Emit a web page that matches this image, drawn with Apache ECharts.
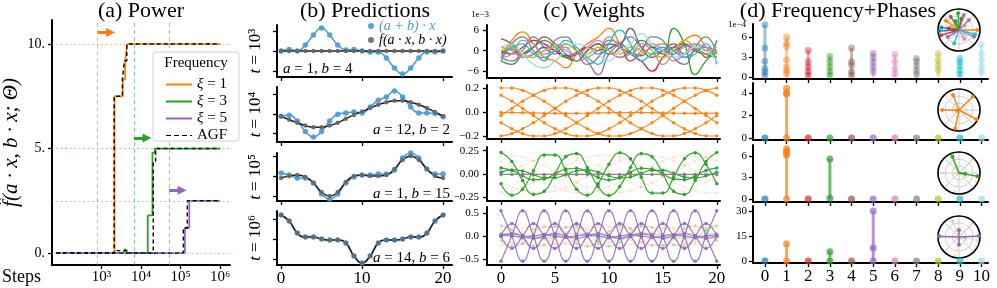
<!DOCTYPE html>
<html><head><meta charset="utf-8">
<script src="https://cdn.jsdelivr.net/npm/echarts@6/dist/echarts.min.js"></script>
<style>html,body{margin:0;padding:0;background:#fff}#c{width:997px;height:288px}</style>
</head><body><div id="c"></div>
<script>
const F = 'Liberation Serif';
const K = ['#1f77b4','#ff7f0e','#d62728','#2ca02c','#8c564b','#9467bd','#e377c2','#7f7f7f','#bcbd22','#17becf','#9edae5'];
const SUP = {3:'³',4:'⁴',5:'⁵',6:'⁶'};

// ---------- (a) Power : x = log10(steps) ----------
const powerXTicks = [3,4,5,6];
const powerYTicks = [0,5,10];
const power1 = [[1.85,0],[3.33,0],[3.33,7.5],[3.54,7.5],[3.54,8.3],[3.6,8.3],[3.6,9.2],[3.65,9.2],[3.65,10],[6,10]];
const power3 = [[1.85,0],[3.55,0],[3.6,0.2],[3.65,0],[4.17,0],[4.17,1.8],[4.29,1.8],[4.29,4.8],[4.35,4.8],[4.35,5],[6,5]];
const power5 = [[1.85,0],[5.11,0],[5.11,1.2],[5.22,1.2],[5.22,2.5],[6,2.5]];
const agf1 = [[1.85,0],[3.32,0],[3.32,7.5],[3.53,7.5],[3.53,8.3],[3.58,8.3],[3.58,9.2],[3.64,9.2],[3.64,10],[6,10]];
const agf3 = [[1.85,0],[3.33,0],[3.33,0.12],[3.66,0.12],[3.66,0],[4.31,0],[4.31,4.4],[4.37,4.4],[4.37,5],[6,5]];
const agf5 = [[1.85,0],[5.07,0],[5.07,1.2],[5.17,1.2],[5.17,2.5],[6,2.5]];
const guideSteps = [2.9,3.82,4.71];
const guideLevels = [10,5,2.5,0];
const arrowLevels = [10.55,5.5,3.0];

// ---------- (b) Predictions ----------
const predX = [0,1,2,3,4,5,6,7,8,9,10,11,12,13,14,15,16,17,18,19,20];
const predXTicks = [0,10,20];
const predBlue1 = [0,0.08,0,0.3,0.8,1.15,0.8,0.3,0.05,0.08,0,-0.05,-0.05,-0.35,-0.85,-1.15,-0.85,-0.35,-0.05,-0.05,0];
const predBlack1 = [0,0,0,0,0,0,0,0,0,0,0,0,0,0,0,0,0,0,0,0,0];
const predBlue2 = [-0.12,-0.07,-0.36,-0.9,-1.18,-0.9,-0.36,-0.02,0.05,0.1,0.05,0.36,0.7,0.87,1.18,0.87,0.36,0.05,0.05,0.02,-0.15];
const predBlack2 = [-0.12,-0.3,-0.45,-0.6,-0.68,-0.68,-0.6,-0.45,-0.25,-0.05,0.12,0.3,0.47,0.6,0.68,0.68,0.6,0.47,0.3,0.1,-0.12];
const predBlue3 = [0.15,0.05,-0.1,-0.1,-0.35,-0.9,-1.15,-0.9,-0.35,-0.05,0.05,0.05,0.1,0.1,0.3,0.9,1.15,0.9,0.35,0.1,0.1];
const predBlack3 = [-0.1,0,0.05,-0.05,-0.35,-0.8,-1.0,-0.8,-0.3,0,0.05,0,0,0.05,0.35,0.8,1.0,0.8,0.35,0,-0.1];
const predBlue4 = [1.2,0.9,0.3,0.1,0.1,0,-0.05,-0.05,-0.2,-0.85,-1.2,-0.85,-0.2,-0.05,-0.05,0,0.1,0.1,0.3,0.9,1.2];
const predBlack4 = [1.2,0.9,0.3,0.1,0.1,0,-0.05,-0.05,-0.2,-0.85,-1.2,-0.85,-0.2,-0.05,-0.05,0,0.1,0.1,0.3,0.9,1.2];
const predLabels = [['1','4'],['12','2'],['1','15'],['14','6']];

// ---------- (c) Weights ----------
const wXTicks = [0,5,10,15,20];
const wNoise = [
 [-1,0.5,-2,-1,1,0,-1.5,-0.5,1,-1,0.5,2,-0.5,-1.5,1,0,-1,1.5,0.5,-1,-2],
 [-2,3,5.5,2,-2,-3,-5,-1,2,4,6.5,2,-3,-1,1,2,0,3,4.5,1,-2],
 [0,-1,1,3,2,0,-2,-1,1,0,2,1,-1,-3,-6,-2,1,2,0,-1,0],
 [-3,-4,-1,1,3,1,-2,-3,0,2,0,-2,0,3,1,-1,6.5,2,-7,-3,0],
 [3.5,2,-1,1,4,2,-1,-3,0,2,-1,1,6.5,1,-2,0,2,-1,1,-2,3],
 [-2,-3,0,4,1,-1,2,0,-3,-7,-1,2,4,1,-1,0,1,-2,0,1,-1],
 [1,0,-2,-1,0,2,0,-1,1,3,0,-2,-1,1,2,0,-3,-1,2,1,0],
 [-3,2,4,0,-3,3,4,0,-4,-2,3,2,-3,0,4,3,-2,-4,1,4,-1],
 [0,1,-1,-2,0,1,2,0,-1,1,0,-1,1,0,-1,-2,0,3,1,-1,0],
 [-2,1,2,-1,-2,0,3,1,-2,-4,2,6,2,-3,-1,1,0,-2,-1,2,-4],
 [1,2,-1,-4,-5,-3,0,2,1,-1,-3,0,2,5,2,0,-2,-1,1,0,-3],
 [-2,-1,3,2,-1,0,1,-3,-2,0,4,1,-1,2,0,-4,-1,1,2,0,1]
];
const wOrange = [
 [0.2,0.2,0.18,0.14,0.09,0.03,-0.03,-0.09,-0.14,-0.18,-0.2,-0.2,-0.18,-0.14,-0.09,-0.03,0.03,0.09,0.14,0.18,0.2],
 [-0.03,0.03,0.09,0.14,0.18,0.2,0.2,0.18,0.14,0.09,0.03,-0.03,-0.09,-0.14,-0.18,-0.2,-0.2,-0.18,-0.14,-0.09,-0.03],
 [-0.2,-0.18,-0.14,-0.09,-0.03,0.03,0.09,0.14,0.18,0.2,0.2,0.18,0.14,0.09,0.03,-0.03,-0.09,-0.14,-0.18,-0.2,-0.2],
 [-0.09,-0.14,-0.18,-0.2,-0.2,-0.18,-0.14,-0.09,-0.03,0.03,0.09,0.14,0.18,0.2,0.2,0.18,0.14,0.09,0.03,-0.03,-0.09],
 [0.14,0.09,0.03,-0.03,-0.09,-0.14,-0.18,-0.2,-0.2,-0.18,-0.14,-0.09,-0.03,0.03,0.09,0.14,0.18,0.2,0.2,0.18,0.14],
 [-0.004,-0.005,-0.006,-0.008,-0.01,-0.011,-0.012,-0.011,-0.01,-0.008,-0.006,-0.005,-0.004,-0.005,-0.006,-0.008,-0.01,-0.011,-0.012,-0.011,-0.01]
];
const wGreen = [
 [0.23,0.135,-0.071,-0.219,-0.186,0,0.186,0.219,0.071,-0.135,-0.23,-0.135,0.071,0.219,0.186,0,-0.186,-0.219,-0.071,0.135,0.23],
 [-0.104,-0.227,-0.163,0.036,0.205,0.205,0.036,-0.163,-0.227,-0.104,0.104,0.227,0.163,-0.036,-0.205,-0.205,-0.036,0.163,0.227,0.104,-0.104],
 [0.065,0.038,-0.02,-0.062,-0.053,0,0.053,0.062,0.02,-0.038,-0.065,-0.038,0.02,0.062,0.053,0,-0.053,-0.062,-0.02,0.038,0.065],
 [0.02,0.044,0.032,-0.007,-0.04,-0.04,-0.007,0.032,0.044,0.02,-0.02,-0.044,-0.032,0.007,0.04,0.04,0.007,-0.032,-0.044,-0.02,0.02]
];
const wGreenFlat = [-0.005,-0.005,-0.005,-0.005,-0.005,-0.005,-0.005,-0.005,-0.005,-0.005,-0.005,-0.005,-0.005,-0.005,-0.005,-0.005,-0.005,-0.005,-0.005,-0.005,-0.005];
const wPurple = [
 [0.55,0,-0.55,0,0.55,0,-0.55,0,0.55,0,-0.55,0,0.55,0,-0.55,0,0.55,0,-0.55,0,0.55],
 [-0.55,0,0.55,0,-0.55,0,0.55,0,-0.55,0,0.55,0,-0.55,0,0.55,0,-0.55,0,0.55,0,-0.55],
 [0,0.27,0,-0.27,0,0.27,0,-0.27,0,0.27,0,-0.27,0,0.27,0,-0.27,0,0.27,0,-0.27,0],
 [0,-0.27,0,0.27,0,-0.27,0,0.27,0,-0.27,0,0.27,0,-0.27,0,0.27,0,-0.27,0,0.27,0],
 [0.03,0,-0.03,0,0.03,0,-0.03,0,0.03,0,-0.03,0,0.03,0,-0.03,0,0.03,0,-0.03,0,0.03],
 [0,0.05,0,-0.05,0,0.05,0,-0.05,0,0.05,0,-0.05,0,0.05,0,-0.05,0,0.05,0,-0.05,0]
];

// ---------- (d) Frequency + Phases ----------
const freqs = [0,1,2,3,4,5,6,7,8,9,10];
const amp1 = [[7.9,4.4,2.4,1.3,0.8,0.25],[6.0,5.1,4.6,2.6,1.5,1.0,0.5],[4.0,2.3,1.5,0.8,0.25],[3.1,2.3,1.5,0.8,0.25],[4.4,2.3,1.8,0.8,0.25],[3.6,3.0,2.3,1.5,0.8],[3.4,2.3,1.2,0.4],[2.8,2.4,1.7,1.0,0.4],[3.5,2.5,1.7,1.0],[2.8,2.3,1.7,1.0,0.4],[4.9,3.5,2.5,1.5,0.8]];
const amp2 = [[0],[4.4,4.0,3.9,0],[0],[0],[0],[0],[0],[0],[0],[0],[0]];
const amp3 = [[0],[7.0,6.7,6.4,6.1,0],[0],[5.6,0.1],[0],[0],[0],[0],[0],[0],[0]];
const amp4 = [[0],[10.3,0],[0],[5.5,0],[0],[30,7.8,0],[0],[0],[0],[0],[0]];
// spokes: [frequency, radius, angle(deg)]
const phase1 = [[3,0.8,93],[7,0.75,72],[4,0.75,122],[1,0.77,145],[1,0.87,0],[0,0.95,183],[2,0.9,196],[5,0.63,212],[5,0.78,336],[9,0.68,250],[10,0.4,323],[7,0.67,45],[6,0.35,40],[8,0.4,150],[0,0.85,172],[4,0.55,78],[9,0.8,345],[6,0.5,300],[2,0.5,170],[3,0.45,110]];
const phase2 = [[1,0.77,112],[1,0.92,44],[1,0.8,180],[1,0.94,332],[1,0.9,258],[1,0.1,200]];
const phase3 = [[3,0.85,112],[3,0.89,350],[3,0.3,354]];
const phase4 = [[5,0.95,178],[5,0.95,3],[5,0.33,90],[5,0.37,270]];

// ---------- build ----------
const grid=[], xAxis=[], yAxis=[], series=[], graphic=[];
function addGrid(l,t,w,h){grid.push({left:l,top:t,width:w,height:h});return grid.length-1;}
function addAxis(kind,g,min,max,vals,o){
  o=o||{};
  const a={type:'value',gridIndex:g,min:min,max:max,
    axisLine:{show:true,onZero:false,lineStyle:{color:'#000',width:2}},
    axisTick:{show:true,length:4,customValues:vals,lineStyle:{color:'#000',width:1.3}},
    splitLine:{show:false},
    axisLabel:{show:!!o.labels,customValues:vals,fontFamily:F,fontSize:o.fs||17,color:'#000',margin:o.margin||6}};
  if(o.fmt) a.axisLabel.formatter=o.fmt;
  if(o.name){a.name=o.name;a.nameLocation='middle';a.nameGap=o.nameGap;a.nameRotate=90;
    a.nameTextStyle={fontFamily:F,fontSize:o.nameSize||17,color:'#000',fontStyle:o.nameItalic?'italic':'normal',
      rich:{i:{fontStyle:'italic',fontFamily:F,fontSize:o.nameSize||17,color:'#000'}}};}
  const arr=kind==='x'?xAxis:yAxis; arr.push(a); return arr.length-1;
}
function pts(xs,ys){return xs.map((x,i)=>[x,ys[i]]);}
function line(xi,yi,data,color,o){
  series.push(Object.assign({type:'line',xAxisIndex:xi,yAxisIndex:yi,data:data,symbol:'none',
    lineStyle:{color:color,width:1.5},itemStyle:{color:color},silent:true},o||{}));
}

// (a)
const gA=addGrid(50,20,180,245);
const xA=addAxis('x',gA,1.75,6.25,powerXTicks,{labels:true,fs:15,margin:5,fmt:v=>'10'+SUP[v]});
const yA=addAxis('y',gA,-0.57,11.15,powerYTicks,{labels:true,fs:14,margin:7,fmt:v=>v+'.',
  name:'f̂(a · x, b · x; Θ)',nameGap:30,nameSize:21,nameItalic:true});
const guideCols=[K[1],K[3],K[5],'#17becf'];
series.push({type:'line',xAxisIndex:xA,yAxisIndex:yA,data:[],silent:true,
  markLine:{silent:true,symbol:'none',label:{show:false},animation:false,
    data:guideSteps.map((s,i)=>({xAxis:s,lineStyle:{color:guideCols[i],opacity:0.55,type:[4,3],width:1.1}}))
      .concat(guideLevels.map((v,i)=>({yAxis:v,lineStyle:{color:guideCols[i],opacity:0.6,type:[1.5,3],width:1.1}})))}});
series.push({type:'line',xAxisIndex:xA,yAxisIndex:yA,data:[],silent:true,
  markLine:{silent:true,symbol:['none','triangle'],symbolSize:[9,9],label:{show:false},animation:false,
    data:guideSteps.map((s,i)=>[{coord:[s,arrowLevels[i]],lineStyle:{color:guideCols[i],width:3,type:'solid'}},{coord:[s+0.33,arrowLevels[i]]}])}});
line(xA,yA,power1,K[1],{name:'ξ = 1',lineStyle:{color:K[1],width:1.8}});
line(xA,yA,power3,K[3],{name:'ξ = 3',lineStyle:{color:K[3],width:1.8}});
line(xA,yA,power5,K[5],{name:'ξ = 5',lineStyle:{color:K[5],width:1.8}});
[agf1,agf3,agf5].forEach(d=>line(xA,yA,d,'#000',{name:'AGF',lineStyle:{color:'#000',width:1.4,type:[4,3]},z:4}));

// (b)
const bRows=[[25,52,-1.3,1.3],[87,55,-1.44,1.38],[153,48,-1.25,1.15],[211,54,-1.3,1.4]];
const predBlue=[predBlue1,predBlue2,predBlue3,predBlue4], predBlack=[predBlack1,predBlack2,predBlack3,predBlack4];
const BLUE='#4a9bd4';
bRows.forEach((r,i)=>{
  const g=addGrid(277,r[0],175,r[1]);
  const xi=addAxis('x',g,-0.5,21.1,predXTicks,{labels:i===3,margin:5});
  const yi=addAxis('y',g,r[2],r[3],[-1,0,1],{labels:false,name:'{i|t} = 10'+SUP[3+i],nameGap:13,nameSize:17});
  line(xi,yi,pts(predX,predBlue[i]),BLUE,{name:i===0?'(a + b) · x':undefined,smooth:0.5,symbol:'circle',symbolSize:5.5,
    lineStyle:{color:BLUE,width:1.5},itemStyle:{color:BLUE,opacity:0.9}});
  line(xi,yi,pts(predX,predBlack[i]),'#222',{name:i===0?'f(a · x, b · x)':undefined,smooth:0.5,symbol:'circle',symbolSize:4.5,
    lineStyle:{color:'#1a1a1a',width:1.5},itemStyle:{color:'#666',opacity:0.9},z:3});
  const lab=predLabels[i];
  graphic.push({type:'text',x:i===0?283:450,y:[69,130,194,258][i],z:50,
    style:{text:'{i|a} = '+lab[0]+', {i|b} = '+lab[1],fill:'#000',font:'15px "'+F+'"',align:i===0?'left':'right',verticalAlign:'middle',
      rich:{i:{fontStyle:'italic',fontSize:15,fontFamily:F,fill:'#000'}}}});
});

// (c)
const cRows=[[25,53,-8,7.5],[85,54,-0.225,0.225],[147,54,-0.29,0.29],[207,58,-0.63,0.63]];
const cTicks=[[-6,0,6],[-0.2,0,0.2],[-0.25,0,0.25],[-0.5,0,0.5]];
const minus=s=>s.replace('-','−');
const cFmt=[v=>minus(String(v)),v=>minus(v.toFixed(1)),v=>minus(v.toFixed(2)),v=>minus(v.toFixed(1))];
const cAx=cRows.map((r,i)=>{
  const g=addGrid(487,r[0],233,r[1]);
  const xi=addAxis('x',g,-1.3,20.3,wXTicks,{labels:i===3,margin:5});
  const yi=addAxis('y',g,r[2],r[3],cTicks[i],{labels:true,fs:11,margin:8,fmt:cFmt[i]});
  return [xi,yi];
});
const noiseCols=K.concat(['#a0a0a0']);
wNoise.forEach((d,j)=>line(cAx[0][0],cAx[0][1],pts(predX,d),noiseCols[j],{smooth:0.5,lineStyle:{color:noiseCols[j],width:1.3}}));
const mk=(c,op,sz)=>({smooth:0.5,symbol:'circle',symbolSize:sz,lineStyle:{color:c,width:1.2,opacity:op},itemStyle:{color:c,opacity:op}});
wOrange.forEach(d=>line(cAx[1][0],cAx[1][1],pts(predX,d),K[1],mk(K[1],0.9,3.5)));
wOrange.forEach(d=>line(cAx[2][0],cAx[2][1],pts(predX,d),K[1],mk(K[1],0.13,3)));
wGreen.forEach(d=>line(cAx[2][0],cAx[2][1],pts(predX,d),K[3],mk(K[3],0.95,3.5)));
line(cAx[2][0],cAx[2][1],pts(predX,wGreenFlat),'#7f7f7f',mk('#7f7f7f',0.9,3.5));
wOrange.forEach(d=>line(cAx[3][0],cAx[3][1],pts(predX,d),K[1],mk(K[1],0.12,3)));
wGreen.forEach(d=>line(cAx[3][0],cAx[3][1],pts(predX,d),K[3],mk(K[3],0.22,3)));
wPurple.forEach(d=>line(cAx[3][0],cAx[3][1],pts(predX,d),K[5],mk(K[5],0.9,3.5)));

// (d)
const dRows=[[24,55,-0.3,8.01],[83,57,-0.18,4.88],[145,57,-0.42,7.54],[206,57,-1.2,33]];
const dTicks=[[0,3,6],[0,2,4],[0,3,6],[0,15,30]];
const amps=[amp1,amp2,amp3,amp4];
dRows.forEach((r,i)=>{
  const g=addGrid(753,r[0],235,r[1]);
  const xi=addAxis('x',g,-0.55,10.3,freqs,{labels:i===3,margin:5});
  const yi=addAxis('y',g,r[2],r[3],dTicks[i],{labels:true,fs:11,margin:6});
  const op=i===0?0.45:0.7;
  series.push({type:'bar',xAxisIndex:xi,yAxisIndex:yi,barWidth:3,silent:true,
    data:freqs.map(k=>({value:[k,Math.max.apply(null,amps[i][k])],itemStyle:{color:K[k],opacity:op}}))});
  const dots=[];
  freqs.forEach(k=>amps[i][k].forEach(v=>dots.push({value:[k,v],itemStyle:{color:K[k],opacity:op}})));
  series.push({type:'scatter',xAxisIndex:xi,yAxisIndex:yi,symbolSize:7,silent:true,data:dots,z:3});
});
const polarCenters=[[959,30],[959,110],[959,173],[959,237]];
const polar=[],angleAxis=[],radiusAxis=[];
polarCenters.forEach((c,i)=>{
  polar.push({center:c,radius:21});
  angleAxis.push({polarIndex:i,type:'value',min:0,max:360,interval:45,startAngle:0,clockwise:false,
    axisLine:{show:true,lineStyle:{color:'#000',width:1.6}},axisTick:{show:false},axisLabel:{show:false},
    splitLine:{show:true,lineStyle:{color:'#c4c4c4',width:0.8}}});
  radiusAxis.push({polarIndex:i,type:'value',min:0,max:1,interval:0.3334,
    axisLine:{show:false},axisTick:{show:false},axisLabel:{show:false},
    splitLine:{show:true,lineStyle:{color:'#c4c4c4',width:0.8}}});
});
function spokes(pi,list,op,w){
  list.forEach(s=>{
    const c=K[s[0]];
    series.push({type:'line',coordinateSystem:'polar',polarIndex:pi,silent:true,
      data:[[0,s[2]],[s[1],s[2]]],symbol:'circle',showSymbol:true,
      symbolSize:(v,p)=>p.dataIndex===1?4:0,
      lineStyle:{color:c,width:w,opacity:op},itemStyle:{color:c,opacity:op}});
  });
}
spokes(0,phase1,0.9,1.5);
spokes(1,phase2,0.95,1.5);
spokes(2,phase2,0.15,1.2); spokes(2,phase3,0.95,1.6);
spokes(3,phase2,0.15,1.2); spokes(3,phase3,0.2,1.2); spokes(3,phase4,0.95,1.6);

// texts
const T=(x,y,text,size,align,extra)=>graphic.push(Object.assign({type:'text',x:x,y:y,z:50,
  style:{text:text,fill:'#000',font:size+'px "'+F+'"',align:align||'center',verticalAlign:'middle'}},extra||{}));
T(141,11,'(a) Power',22);
T(365,11,'(b) Predictions',22);
T(594,11,'(c) Weights',22);
T(838,11,'(d) Frequency+Phases',22);
T(2,277,'Steps',18,'left');
T(480,15,'1e−3',9);
T(737,25,'1e−4',9);
graphic.push({type:'rect',z:40,shape:{x:153,y:52,width:86,height:89,r:3},style:{fill:'rgba(255,255,255,0.9)',stroke:'#d0d0d0',lineWidth:1}});
T(196,63,'Frequency',15,'center',{z:60});

const dashIcon='path://M0,0h5v1h-5z M8,0h5v1h-5z M16,0h5v1h-5z M24,0h2v1h-2z';
const option={
  animation:false,
  grid:grid,xAxis:xAxis,yAxis:yAxis,polar:polar,angleAxis:angleAxis,radiusAxis:radiusAxis,
  legend:[
    {data:[{name:'ξ = 1',icon:'rect'},{name:'ξ = 3',icon:'rect'},{name:'ξ = 5',icon:'rect'},{name:'AGF',icon:dashIcon}],
     left:161,top:72,orient:'vertical',itemWidth:26,itemHeight:2,itemGap:2,
     selectedMode:false,z:60,formatter:n=>n==='AGF'?'AGF':'{i|ξ}'+n.slice(1),
     textStyle:{fontFamily:F,fontSize:15,color:'#000',lineHeight:15,rich:{i:{fontStyle:'italic',fontFamily:F,fontSize:15,lineHeight:15,color:'#000'}}}},
    {data:[{name:'(a + b) · x',textStyle:{color:BLUE}},{name:'f(a · x, b · x)'}],left:368,top:19,padding:0,orient:'vertical',
     icon:'circle',itemWidth:6,itemHeight:6,itemGap:0,selectedMode:false,z:60,
     textStyle:{fontFamily:F,fontSize:14,fontStyle:'italic',color:'#000',lineHeight:14}}
  ],
  graphic:graphic,
  series:series
};
const chart=echarts.init(document.getElementById('c'),null,{renderer:'canvas'});
chart.setOption(option);
</script></body></html>
